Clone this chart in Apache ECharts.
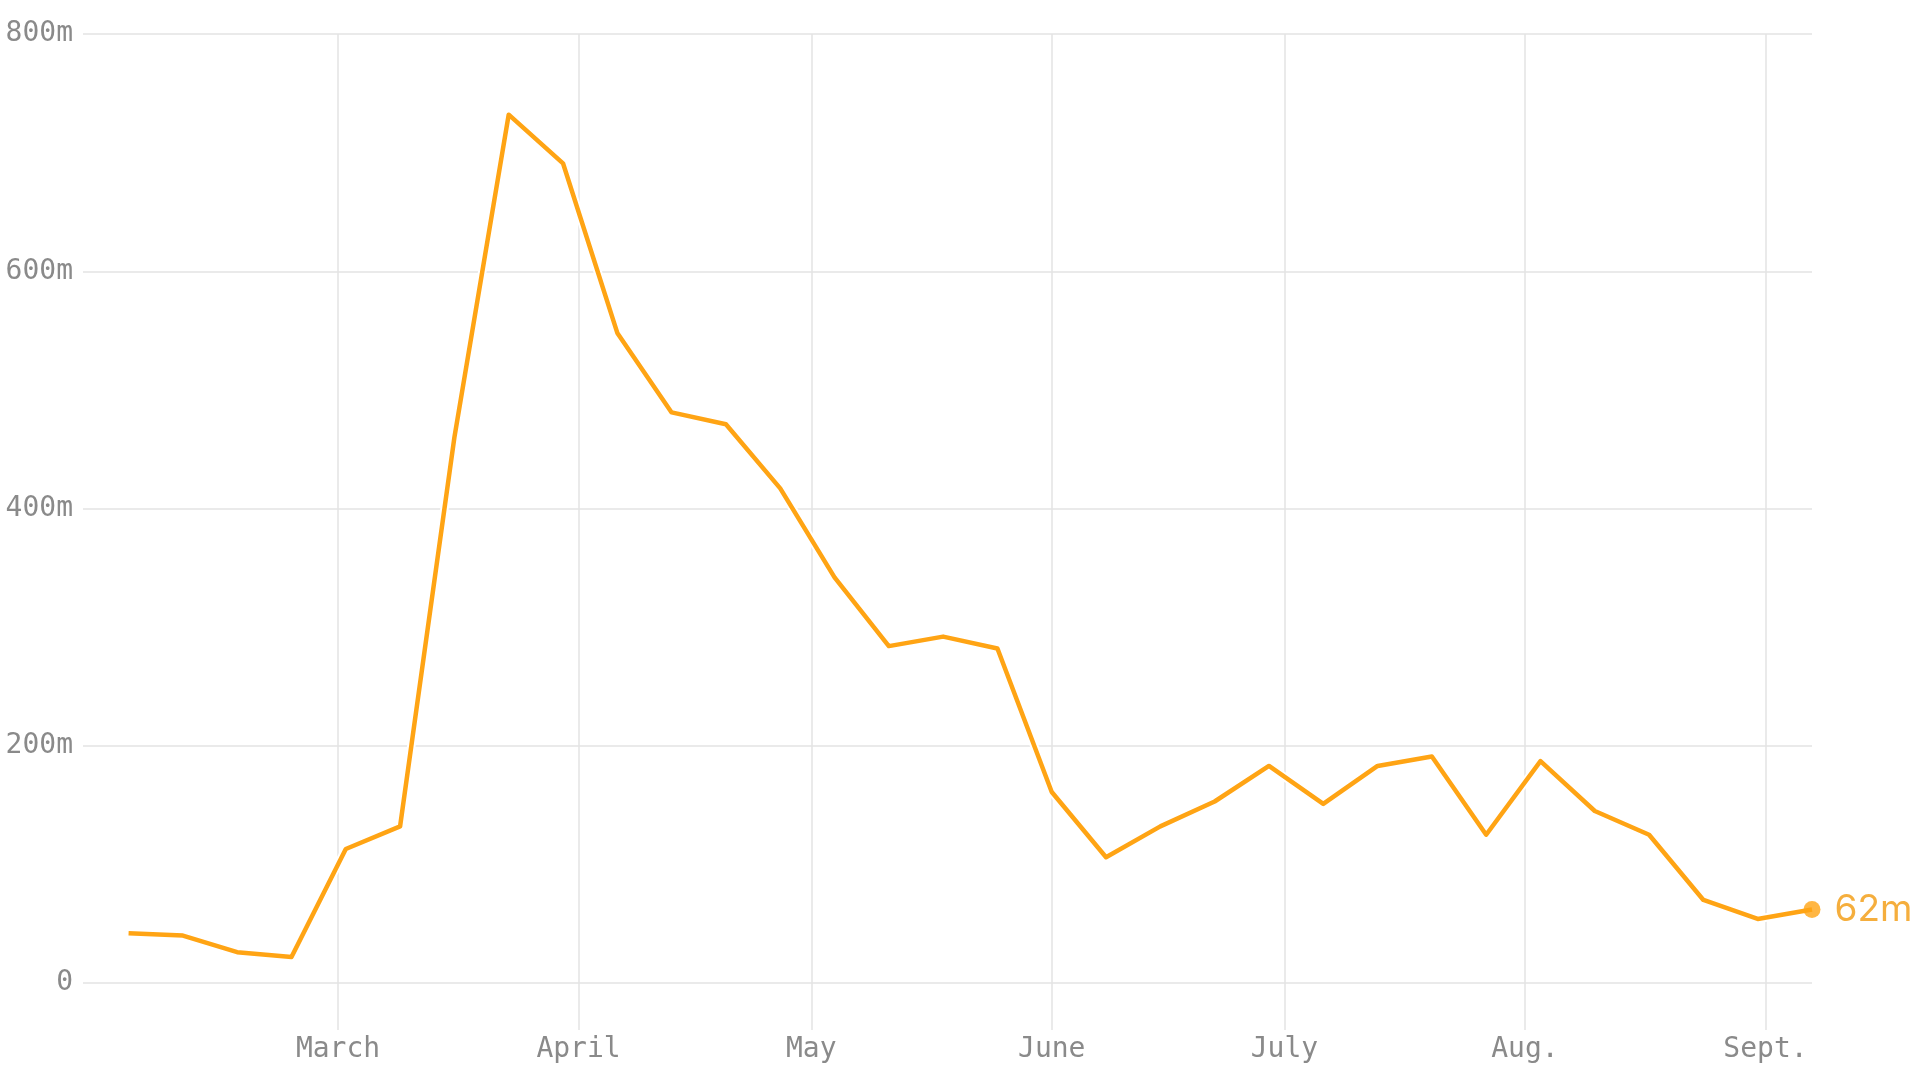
<!DOCTYPE html>
<html>
<head>
<meta charset="utf-8">
<title>Weekly trend</title>
<script src="https://cdn.jsdelivr.net/npm/echarts@6/dist/echarts.min.js"></script>
<style>
  html, body { margin: 0; padding: 0; background: #fff; }
  #chart { width: 1920px; height: 1080px; }
</style>
</head>
<body>
<div id="chart"></div>
<script>
// weekly points
const weeks = [
  '2020-02-03', '2020-02-10', '2020-02-17', '2020-02-24',
  '2020-03-02', '2020-03-09', '2020-03-16', '2020-03-23', '2020-03-30',
  '2020-04-06', '2020-04-13', '2020-04-20', '2020-04-27',
  '2020-05-04', '2020-05-11', '2020-05-18', '2020-05-25',
  '2020-06-01', '2020-06-08', '2020-06-15', '2020-06-22', '2020-06-29',
  '2020-07-06', '2020-07-13', '2020-07-20', '2020-07-27',
  '2020-08-03', '2020-08-10', '2020-08-17', '2020-08-24', '2020-08-31',
  '2020-09-07'
];
const values = [
  42, 40, 26, 22,
  113, 132, 460, 732, 691,
  548, 481, 471, 417,
  342, 284, 292, 282,
  161, 106, 132, 153, 183,
  151, 183, 191, 125,
  187, 145, 125, 70, 54,
  62
];

// x axis month marks
const monthStarts = ['2020-03-01', '2020-04-01', '2020-05-01', '2020-06-01', '2020-07-01', '2020-08-01', '2020-09-01'];
const monthLabels = ['March', 'April', 'May', 'June', 'July', 'Aug.', 'Sept.'];

// y axis
const yTicks = [0, 200, 400, 600, 800];

const toTs = s => {
  const [y, m, d] = s.split('-').map(Number);
  return Date.UTC(y, m - 1, d);
};

const lineColor = '#FFA414';
const gridColor = '#e3e3e3';
const textColor = '#8a8a8a';

const monthTs = monthStarts.map(toTs);
const points = weeks.map((w, i) => [toTs(w), values[i]]);
const last = points[points.length - 1];

const chart = echarts.init(document.getElementById('chart'));

// the x axis is a plain value axis over timestamps, ticks only at month starts
const option = {
  animation: false,
  grid: {
    left: 83,
    right: 108,
    top: 34,
    bottom: 97
  },
  xAxis: {
    type: 'value',
    min: Date.UTC(2020, 0, 28, 3),
    max: toTs('2020-09-07'),
    axisLine: { show: false },
    axisTick: {
      show: true,
      customValues: monthTs,
      length: 47,
      lineStyle: { color: gridColor, width: 1.5 }
    },
    splitLine: {
      show: true,
      lineStyle: { color: gridColor, width: 1.5 }
    },
    axisLabel: {
      customValues: monthTs,
      margin: 53,
      color: textColor,
      fontFamily: 'DejaVu Sans Mono',
      fontSize: 28,
      formatter: v => {
        const i = monthTs.indexOf(v);
        return i >= 0 ? monthLabels[i] : '';
      }
    }
  },
  yAxis: {
    type: 'value',
    min: yTicks[0],
    max: yTicks[yTicks.length - 1],
    interval: 200,
    axisLine: { show: false },
    axisTick: { show: false },
    splitLine: {
      show: true,
      lineStyle: { color: gridColor, width: 1.5 }
    },
    axisLabel: {
      margin: 10,
      color: textColor,
      fontFamily: 'DejaVu Sans Mono',
      fontSize: 28,
      formatter: v => (v === 0 ? '0' : v + 'm')
    }
  },
  series: [
    {
      // white halo under the line
      type: 'line',
      data: points,
      symbol: 'none',
      silent: true,
      z: 2,
      lineStyle: { color: '#ffffff', width: 8.5 }
    },
    {
      type: 'line',
      data: points,
      symbol: 'none',
      z: 3,
      lineStyle: { color: lineColor, width: 4.5, join: 'round' }
    },
    {
      type: 'scatter',
      data: [last],
      symbol: 'circle',
      symbolSize: 17,
      z: 4,
      itemStyle: { color: lineColor },
      label: {
        show: true,
        position: 'right',
        distance: 14,
        color: '#F29A0C',
        fontFamily: 'Inter',
        fontSize: 37,
        formatter: p => p.value[1] + 'm'
      }
    }
  ]
};

chart.setOption(option);
</script>
</body>
</html>
